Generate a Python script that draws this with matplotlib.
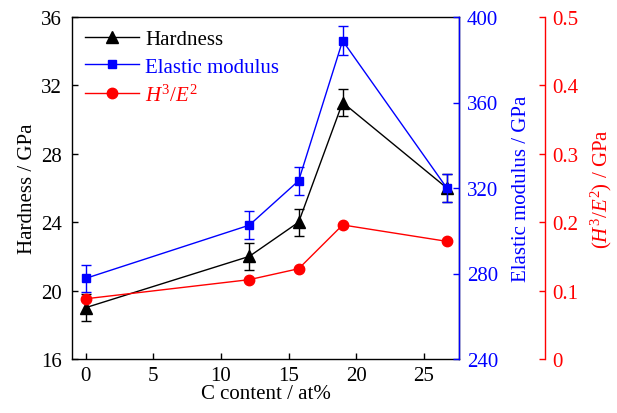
import matplotlib.pyplot as plt

plt.rcParams['font.family'] = ['Liberation Serif', 'DejaVu Serif']
plt.rcParams['mathtext.fontset'] = 'custom'
plt.rcParams['mathtext.rm'] = 'Liberation Serif'
plt.rcParams['mathtext.it'] = 'Liberation Serif:italic'
plt.rcParams['font.size'] = 15

# Data
c_content = [0, 12.1, 15.75, 19.0, 26.7]
hardness = [19.0, 22.0, 24.0, 31.0, 26.0]
hardness_err = [0.8, 0.8, 0.8, 0.8, 0.8]
modulus = [277.7, 302.6, 323.4, 388.9, 320.0]
modulus_err = [6.5, 6.5, 6.5, 6.7, 6.4]
h3e2 = [0.088, 0.116, 0.132, 0.196, 0.172]

fig = plt.figure(figsize=(6.17, 4.14), dpi=100)
ax = fig.add_axes([72 / 617, 1 - 360 / 414, (459 - 72) / 617, (360 - 18) / 414])
ax2 = ax.twinx()
ax3 = ax.twinx()
ax3.spines['right'].set_position(('axes', (545 - 72) / (459 - 72)))

# Hardness
l1, = ax.plot(c_content, hardness, color='black', marker='^', ms=8, lw=1, label='Hardness')
ax.errorbar(c_content, hardness, yerr=hardness_err, fmt='none', ecolor='black', elinewidth=1, capsize=3.5, capthick=1)

# Elastic modulus
l2, = ax2.plot(c_content, modulus, color='blue', marker='s', ms=6, lw=1, label='Elastic modulus')
ax2.errorbar(c_content, modulus, yerr=modulus_err, fmt='none', ecolor='blue', elinewidth=1, capsize=3.5, capthick=1)

# H3/E2
l3, = ax3.plot(c_content, h3e2, color='red', marker='o', ms=7.5, lw=1, label='$H^3/E^2$')

ax.set_xlim(-1, 27.6)
ax.set_xticks([0, 5, 10, 15, 20, 25])
ax.set_ylim(16, 36)
ax.set_yticks([16, 20, 24, 28, 32, 36])
ax2.set_ylim(240, 400)
ax2.set_yticks([240, 280, 320, 360, 400])
ax3.set_ylim(0, 0.5)
ax3.set_yticks([0, 0.1, 0.2, 0.3, 0.4, 0.5])
ax3.set_yticklabels(['0', '0.1', '0.2', '0.3', '0.4', '0.5'])

ax.set_xlabel('C content / at%', labelpad=-1)
ax.set_ylabel('Hardness / GPa', labelpad=3)
ax2.set_ylabel('Elastic modulus / GPa', color='blue', labelpad=10)
ax3.set_ylabel('$(H^3/E^2)$ / GPa', color='red', labelpad=7)

ax.tick_params(axis='x', direction='in', length=4, width=1, pad=5)
ax.tick_params(axis='y', direction='in', length=4, width=1, pad=7)
ax2.tick_params(axis='y', direction='in', length=4, width=1, colors='blue', pad=5.5)
ax3.tick_params(axis='y', direction='in', length=4, width=1, colors='red', pad=5.5)

for s in ax.spines.values():
    s.set_linewidth(1)
ax2.spines['right'].set_color('blue')
ax2.spines['right'].set_linewidth(1)
ax3.spines['right'].set_color('red')
ax3.spines['right'].set_linewidth(1)
for a in (ax2, ax3):
    for side in ('left', 'top', 'bottom'):
        a.spines[side].set_visible(False)

leg = ax.legend(handles=[l1, l2, l3], loc='upper left', frameon=False,
                handlelength=2.6, handletextpad=0.3, labelspacing=0.38,
                borderaxespad=0.3, borderpad=0.3)
for text, col in zip(leg.get_texts(), ['black', 'blue', 'red']):
    text.set_color(col)

fig.savefig('out.png', dpi=100)
